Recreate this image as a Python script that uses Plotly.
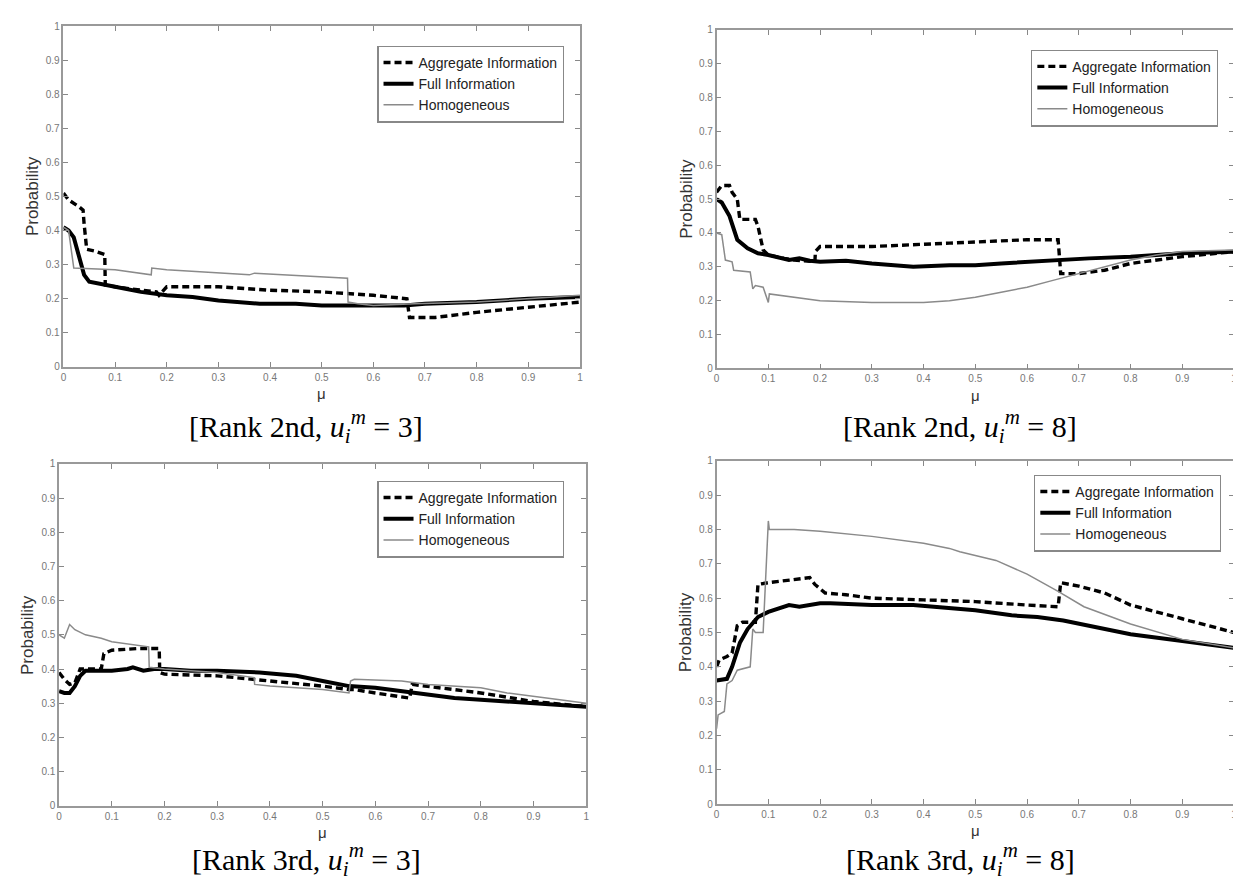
import plotly.graph_objects as go

# ---------------- data ----------------
# Panel 1: Rank 2nd, u=3
p1_agg_x = [0, 0.01, 0.03, 0.038, 0.04, 0.045, 0.06, 0.08, 0.081, 0.1, 0.15, 0.18, 0.185, 0.2, 0.3, 0.4, 0.5, 0.6, 0.665, 0.67, 0.72, 0.8, 0.9, 1.0]
p1_agg_y = [0.51, 0.49, 0.47, 0.46, 0.42, 0.345, 0.34, 0.33, 0.24, 0.235, 0.225, 0.22, 0.21, 0.235, 0.235, 0.225, 0.22, 0.21, 0.20, 0.145, 0.145, 0.16, 0.175, 0.19]
p1_full_x = [0, 0.01, 0.02, 0.03, 0.04, 0.05, 0.07, 0.1, 0.15, 0.18, 0.2, 0.25, 0.3, 0.38, 0.45, 0.5, 0.55, 0.66, 0.7, 0.8, 0.9, 1.0]
p1_full_y = [0.41, 0.40, 0.38, 0.33, 0.27, 0.25, 0.245, 0.235, 0.22, 0.215, 0.21, 0.205, 0.195, 0.185, 0.185, 0.18, 0.18, 0.18, 0.185, 0.19, 0.20, 0.205]
p1_hom_x = [0, 0.01, 0.02, 0.1, 0.17, 0.171, 0.2, 0.36, 0.37, 0.55, 0.551, 0.57, 0.6, 0.68, 0.8, 0.9, 1.0]
p1_hom_y = [0.41, 0.40, 0.29, 0.285, 0.27, 0.29, 0.285, 0.27, 0.275, 0.26, 0.19, 0.185, 0.18, 0.185, 0.19, 0.20, 0.21]

# Panel 2: Rank 2nd, u=8
p2_agg_x = [0, 0.01, 0.025, 0.03, 0.04, 0.045, 0.075, 0.08, 0.09, 0.1, 0.13, 0.15, 0.19, 0.191, 0.2, 0.3, 0.45, 0.6, 0.66, 0.665, 0.7, 0.75, 0.8, 0.9, 1.0]
p2_agg_y = [0.52, 0.54, 0.54, 0.52, 0.50, 0.44, 0.44, 0.42, 0.35, 0.335, 0.325, 0.32, 0.315, 0.345, 0.36, 0.36, 0.37, 0.38, 0.38, 0.28, 0.28, 0.29, 0.31, 0.33, 0.345]
p2_full_x = [0, 0.01, 0.025, 0.04, 0.06, 0.08, 0.1, 0.13, 0.14, 0.16, 0.18, 0.2, 0.25, 0.3, 0.38, 0.45, 0.5, 0.55, 0.6, 0.67, 0.72, 0.8, 0.9, 1.0]
p2_full_y = [0.50, 0.49, 0.45, 0.38, 0.355, 0.34, 0.335, 0.325, 0.32, 0.325, 0.318, 0.315, 0.318, 0.31, 0.30, 0.305, 0.305, 0.31, 0.315, 0.32, 0.325, 0.33, 0.34, 0.345]
p2_hom_x = [0, 0.01, 0.017, 0.03, 0.033, 0.065, 0.07, 0.075, 0.09, 0.1, 0.102, 0.15, 0.2, 0.3, 0.4, 0.45, 0.5, 0.55, 0.6, 0.65, 0.7, 0.75, 0.8, 0.85, 0.9, 1.0]
p2_hom_y = [0.40, 0.395, 0.32, 0.315, 0.29, 0.285, 0.235, 0.245, 0.24, 0.195, 0.22, 0.21, 0.20, 0.195, 0.195, 0.20, 0.21, 0.225, 0.24, 0.26, 0.28, 0.30, 0.32, 0.335, 0.345, 0.35]

# Panel 3: Rank 3rd, u=3
p3_agg_x = [0, 0.01, 0.02, 0.03, 0.04, 0.05, 0.08, 0.085, 0.1, 0.15, 0.19, 0.191, 0.2, 0.3, 0.37, 0.4, 0.5, 0.55, 0.56, 0.6, 0.665, 0.67, 0.72, 0.8, 0.9, 1.0]
p3_agg_y = [0.39, 0.37, 0.355, 0.36, 0.40, 0.40, 0.40, 0.445, 0.455, 0.46, 0.46, 0.39, 0.385, 0.38, 0.37, 0.365, 0.35, 0.34, 0.34, 0.33, 0.315, 0.355, 0.345, 0.33, 0.305, 0.29]
p3_full_x = [0, 0.01, 0.02, 0.03, 0.04, 0.05, 0.1, 0.13, 0.14, 0.16, 0.18, 0.2, 0.25, 0.3, 0.38, 0.45, 0.5, 0.55, 0.6, 0.65, 0.7, 0.75, 0.8, 0.9, 1.0]
p3_full_y = [0.335, 0.33, 0.33, 0.35, 0.38, 0.395, 0.395, 0.40, 0.405, 0.395, 0.40, 0.40, 0.395, 0.395, 0.39, 0.38, 0.365, 0.35, 0.345, 0.335, 0.325, 0.315, 0.31, 0.30, 0.29]
p3_hom_x = [0, 0.01, 0.02, 0.03, 0.05, 0.08, 0.1, 0.15, 0.17, 0.171, 0.2, 0.3, 0.37, 0.371, 0.4, 0.5, 0.55, 0.553, 0.56, 0.65, 0.7, 0.8, 0.85, 0.95, 1.0]
p3_hom_y = [0.50, 0.49, 0.53, 0.515, 0.50, 0.49, 0.48, 0.47, 0.465, 0.405, 0.40, 0.39, 0.375, 0.355, 0.35, 0.34, 0.33, 0.365, 0.37, 0.365, 0.355, 0.345, 0.33, 0.31, 0.30]

# Panel 4: Rank 3rd, u=8
p4_agg_x = [0, 0.005, 0.02, 0.03, 0.04, 0.05, 0.075, 0.08, 0.1, 0.15, 0.18, 0.19, 0.21, 0.25, 0.3, 0.4, 0.5, 0.6, 0.66, 0.665, 0.7, 0.75, 0.8, 0.9, 1.0]
p4_agg_y = [0.40, 0.42, 0.43, 0.44, 0.52, 0.53, 0.53, 0.64, 0.645, 0.655, 0.66, 0.64, 0.615, 0.61, 0.60, 0.595, 0.59, 0.58, 0.575, 0.645, 0.635, 0.615, 0.58, 0.54, 0.50]
p4_full_x = [0, 0.02, 0.03, 0.045, 0.06, 0.08, 0.1, 0.12, 0.14, 0.16, 0.18, 0.2, 0.22, 0.3, 0.38, 0.45, 0.5, 0.57, 0.62, 0.67, 0.75, 0.8, 0.9, 1.0]
p4_full_y = [0.36, 0.365, 0.40, 0.47, 0.51, 0.545, 0.56, 0.57, 0.58, 0.575, 0.58, 0.585, 0.585, 0.58, 0.58, 0.57, 0.565, 0.55, 0.545, 0.535, 0.51, 0.495, 0.475, 0.455]
p4_hom_x = [0, 0.003, 0.015, 0.02, 0.03, 0.04, 0.065, 0.07, 0.075, 0.09, 0.1, 0.102, 0.15, 0.2, 0.3, 0.4, 0.45, 0.47, 0.54, 0.6, 0.66, 0.71, 0.8, 0.9, 1.0]
p4_hom_y = [0.22, 0.26, 0.27, 0.35, 0.36, 0.39, 0.40, 0.51, 0.50, 0.50, 0.825, 0.80, 0.80, 0.795, 0.78, 0.76, 0.745, 0.735, 0.71, 0.67, 0.62, 0.575, 0.525, 0.48, 0.455]

series_names = ["Aggregate Information", "Full Information", "Homogeneous"]
captions = ["[Rank 2nd, <i>u</i><sub><i>i</i></sub><sup><i>m</i></sup> = 3]",
            "[Rank 2nd, <i>u</i><sub><i>i</i></sub><sup><i>m</i></sup> = 8]",
            "[Rank 3rd, <i>u</i><sub><i>i</i></sub><sup><i>m</i></sup> = 3]",
            "[Rank 3rd, <i>u</i><sub><i>i</i></sub><sup><i>m</i></sup> = 8]"]

panels = [
    (p1_agg_x, p1_agg_y, p1_full_x, p1_full_y, p1_hom_x, p1_hom_y),
    (p2_agg_x, p2_agg_y, p2_full_x, p2_full_y, p2_hom_x, p2_hom_y),
    (p3_agg_x, p3_agg_y, p3_full_x, p3_full_y, p3_hom_x, p3_hom_y),
    (p4_agg_x, p4_agg_y, p4_full_x, p4_full_y, p4_hom_x, p4_hom_y),
]

# ---------------- layout geometry (pixels) ----------------
W, H = 1241, 885
boxes = [(52.7, 571.7, 12.3, 357.7), (709, 1229, 16, 359.3),
         (48.3, 578, 456, 802.7), (709, 1229, 453, 801)]
legend_pos = [(368, 32), (1025, 36), (368, 473), (1028, 467)]
caption_pos = [(296, 418), (954, 418), (297, 857), (954, 857)]

fig = go.Figure()
styles = [dict(color="black", width=3.4, dash="7px,4px"),
          dict(color="black", width=4),
          dict(color="#8a8a8a", width=1.5)]

layout = dict(width=W, height=H, margin=dict(l=0, r=0, t=0, b=0),
              paper_bgcolor="white", plot_bgcolor="white", showlegend=True)
annotations = []

for i, pdata in enumerate(panels):
    k = "" if i == 0 else str(i + 1)
    l, r, t, b = boxes[i]
    axstyle = dict(range=[0, 1], dtick=0.1, ticks="inside", ticklen=5, tickcolor="#888",
                   tickwidth=1.2, showline=True, linecolor="#999", linewidth=1.5,
                   mirror="ticks", showgrid=False, zeroline=False,
                   ticklabeloverflow="allow",
                   tickfont=dict(family="Arial", size=10, color="#777"))
    layout["xaxis" + k] = dict(domain=[l / W, r / W], anchor="y" + k, **axstyle)
    layout["yaxis" + k] = dict(domain=[1 - b / H, 1 - t / H], anchor="x" + k, **axstyle)
    lg = "legend" if i == 0 else "legend" + str(i + 1)
    lx, ly = legend_pos[i]
    layout[lg] = dict(x=lx / W, y=1 - ly / H, xanchor="left", yanchor="top",
                      bgcolor="white", bordercolor="#888", borderwidth=1.3,
                      font=dict(family="Arial", size=14, color="#222"),
                      tracegroupgap=0, itemwidth=30)
    for j in range(3):
        xs, ys = pdata[2 * j], pdata[2 * j + 1]
        fig.add_trace(go.Scatter(x=xs, y=ys, mode="lines", name=series_names[j],
                                 line=styles[j], xaxis="x" + k, yaxis="y" + k,
                                 legend=lg))
    annotations.append(dict(text="Probability", x=(l - 31) / W, y=1 - ((t + b) / 2) / H,
                            xref="paper", yref="paper", textangle=-90, showarrow=False,
                            xanchor="center", yanchor="middle",
                            font=dict(family="Arial", size=17, color="#333")))
    annotations.append(dict(text="μ", x=((l + r) / 2) / W, y=1 - (b + 27) / H,
                            xref="paper", yref="paper", showarrow=False,
                            xanchor="center", yanchor="middle",
                            font=dict(family="Arial", size=15, color="#333")))
    cx, cy = caption_pos[i]
    annotations.append(dict(text=captions[i], x=cx / W, y=1 - cy / H,
                            xref="paper", yref="paper", showarrow=False,
                            xanchor="center", yanchor="middle",
                            font=dict(family="Liberation Serif", size=30, color="black")))

layout["annotations"] = annotations
fig.update_layout(**layout)
fig.write_html("out.html")
